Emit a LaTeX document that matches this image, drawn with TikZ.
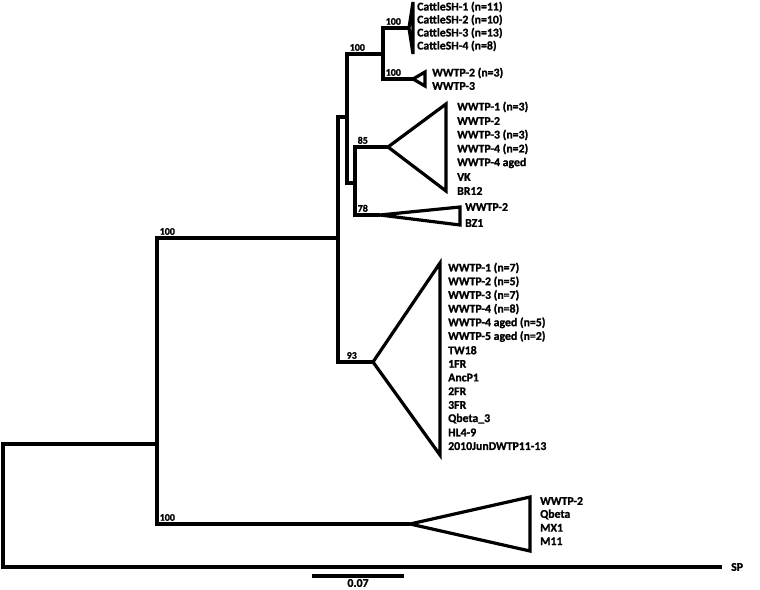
\documentclass[tikz,border=0pt]{standalone}
\usepackage{fontspec}
\setmainfont{Carlito}[BoldFont={Carlito Bold}, BoldFeatures={FakeBold=1.2}]
\usetikzlibrary{positioning}
\tikzset{
	branch/.style={line width=3.2pt, line join=miter},
	clade/.style={line width=3.2pt, line join=miter},
	leaf/.style={anchor=west, inner sep=0pt},
	boot/.style={anchor=south west, inner xsep=2.5pt, inner ysep=3pt, font=\bfseries\fontsize{10}{11}\selectfont},
}

\begin{document}
\begin{tikzpicture}[x=1pt, y=-1pt, font=\bfseries\fontsize{11.8}{13}\selectfont]
	\useasboundingbox (0,0) rectangle (760,589);
	% internal nodes (x of the vertical, y of the incoming branch)
	\coordinate (root) at (3,505);
	\coordinate (nA) at (157,444);
	\coordinate (nB) at (338,238);
	\coordinate (nC) at (347,117);
	\coordinate (nD) at (383,54);
	\coordinate (nE) at (355,183);
	% collapsed clade apices
	\coordinate (cattle) at (409,28);
	\coordinate (wwtpA) at (413,79);
	\coordinate (wwtpB) at (388,147);
	\coordinate (wwtpC) at (380,215);
	\coordinate (big) at (373,362);
	\coordinate (qbeta) at (410,524);
	\coordinate (sp) at (722,567);

	% tree
	\draw[branch] (root) |- (nA);
	\draw[branch] (root) |- (sp);
	\draw[branch] (nA) |- (nB);
	\draw[branch] (nA) |- (qbeta);
	\draw[branch] (nB) |- (nC);
	\draw[branch] (nB) |- (big);
	\draw[branch] (nC) |- (nD);
	\draw[branch] (nC) |- (nE);
	\draw[branch] (nD) |- (cattle);
	\draw[branch] (nD) |- (wwtpA);
	\draw[branch] (nE) |- (wwtpB);
	\draw[branch] (nE) |- (wwtpC);

	% collapsed clades
	\draw[clade] (cattle) -- (413,2) -- (413,54) -- cycle;
	\draw[clade] (wwtpA) -- (425,72) -- (425,86) -- cycle;
	\draw[clade] (wwtpB) -- (446,104) -- (446,191) -- cycle;
	\draw[clade] (wwtpC) -- (460,207) -- (460,225) -- cycle;
	\draw[clade] (big) -- (440,263) -- (440,455) -- cycle;
	\draw[clade] (qbeta) -- (530,497) -- (530,551) -- cycle;

	% bootstrap values
	\node[boot] (bA1) at (nA |- nB) {100};
	\node[boot] (bA2) at (nA |- qbeta) {100};
	\node[boot, xshift=6pt] (bB) at (nB |- big) {93};
	\node[boot] (bC) at (nC |- nD) {100};
	\node[boot] (bD1) at (nD |- cattle) {100};
	\node[boot] (bD2) at (nD |- wwtpA) {100};
	\node[boot] (bE1) at (nE |- wwtpB) {85};
	\node[boot] (bE2) at (nE |- wwtpC) {78};

	% leaf labels
	\foreach \lab [count=\i from 0] in {CattleSH-1 (n=11), CattleSH-2 (n=10), CattleSH-3 (n=13), CattleSH-4 (n=8)}
		\node[leaf] (cat\i) at (417, {7+13*\i}) {\lab};
	\node[leaf] (wa0) at (432,73) {WWTP-2 (n=3)};
	\node[leaf] (wa1) at (432,86) {WWTP-3};
	\foreach \lab [count=\i from 0] in {WWTP-1 (n=3), WWTP-2, WWTP-3 (n=3), WWTP-4 (n=2), WWTP-4 aged, VK, BR12}
		\node[leaf] (wb\i) at (457, {107+14*\i}) {\lab};
	\node[leaf] (wc0) at (465,207) {WWTP-2};
	\node[leaf] (wc1) at (465,223) {BZ1};
	\foreach \lab [count=\i from 0] in {WWTP-1 (n=7), WWTP-2 (n=5), WWTP-3 (n=7), WWTP-4 (n=8), WWTP-4 aged (n=5), WWTP-5 aged (n=2), TW18, 1FR, AncP1, 2FR, 3FR, Qbeta\_3, HL4-9, 2010JunDWTP11-13}
		\node[leaf] (bg\i) at (448, {268+13.7*\i}) {\lab};
	\foreach \lab [count=\i from 0] in {WWTP-2, Qbeta, MX1, M11}
		\node[leaf] (qb\i) at (540, {501+13.4*\i}) {\lab};
	\node[leaf] (splab) at (731,567) {SP};

	% scale bar
	\coordinate (sb1) at (312,576);
	\coordinate (sb2) at (404,576);
	\draw[branch] (sb1) -- (sb2);
	\node[inner sep=0pt] (sblab) at (358,583) {0.07};
\end{tikzpicture}
\end{document}
